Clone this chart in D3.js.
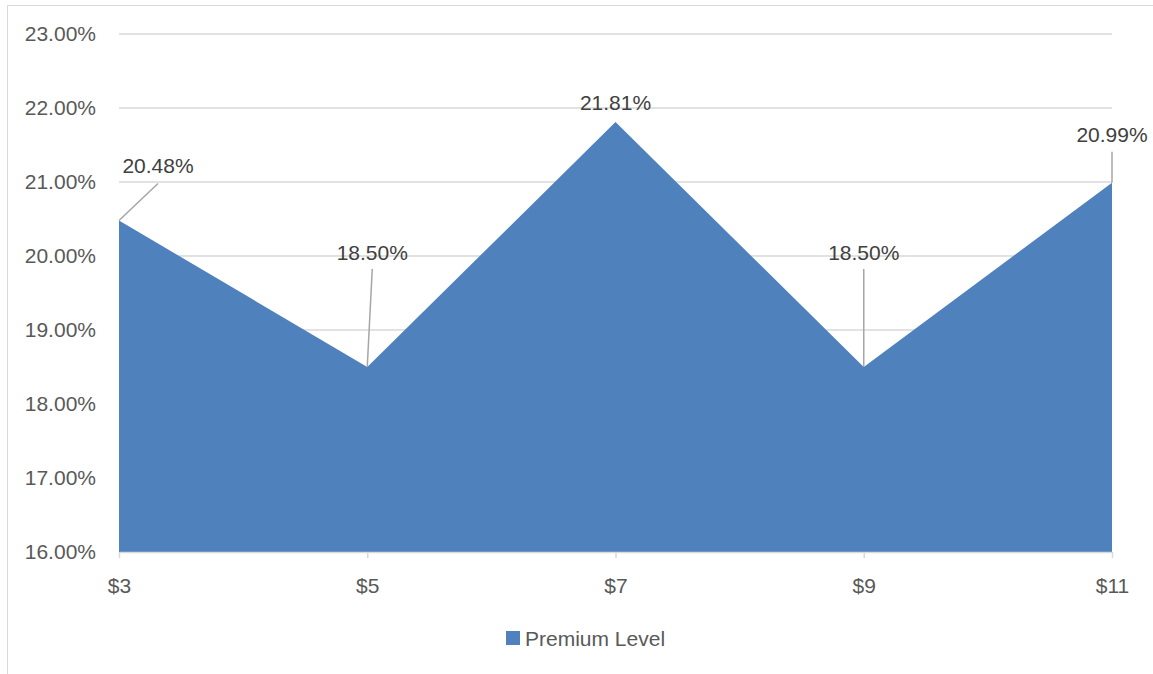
<!DOCTYPE html>
<html><head><meta charset="utf-8">
<script src="https://cdn.jsdelivr.net/npm/d3@7"></script>
<style>body{margin:0;background:#fff;} svg{display:block;font-family:"Liberation Sans",Arial,sans-serif;}</style>
</head><body>
<svg id="c" width="1153" height="674"></svg>
<script>
const categories = ["$3","$5","$7","$9","$11"];
const values = [20.48, 18.50, 21.81, 18.50, 20.99];
const yTicks = [16,17,18,19,20,21,22,23];
const seriesName = "Premium Level";
// label offsets relative to point (dx, dy) for leader-line placement
const labelOffsets = [[39,-55],[5,-115],[0,-20],[0,-115],[0,-48]];

const svg = d3.select("#c");
const FS = "21px";
// outer border (top and left only visible)
svg.append("line").attr("x1",7.5).attr("x2",1153).attr("y1",5.5).attr("y2",5.5).attr("stroke","#d9d9d9");
svg.append("line").attr("x1",7.5).attr("x2",7.5).attr("y1",5.5).attr("y2",674).attr("stroke","#d9d9d9");

const x = d3.scalePoint().domain(categories).range([119,1112]);
const y = d3.scaleLinear().domain([16,23]).range([552,34]);

// gridlines
svg.append("g").selectAll("line").data(yTicks.filter(t=>t>16)).join("line")
  .attr("x1",119).attr("x2",1112).attr("y1",d=>y(d)).attr("y2",d=>y(d))
  .attr("stroke","#d9d9d9").attr("stroke-width",1.5);

// y axis labels
const yAxis = d3.axisLeft(y).tickValues(yTicks).tickSize(0).tickPadding(23)
  .tickFormat(d=>d3.format(".2f")(d)+"%");
const ya = svg.append("g").attr("transform","translate(119,0)").call(yAxis);
ya.select(".domain").remove();
ya.selectAll("text").attr("fill","#595959").style("font-size",FS).style("font-family","Liberation Sans, Arial, sans-serif");

// area
const data = categories.map((c,i)=>({c, v: values[i]}));
const area = d3.area().x(d=>x(d.c)).y0(y(16)).y1(d=>y(d.v));
svg.append("path").datum(data).attr("d",area).attr("fill","#4f81bd");

// x axis
const xAxis = d3.axisBottom(x).tickSizeInner(6).tickSizeOuter(0).tickPadding(0);
const xa = svg.append("g").attr("transform",`translate(0,${y(16)})`).call(xAxis);
xa.select(".domain").attr("stroke","#d9d9d9").attr("stroke-width",1.5);
xa.selectAll(".tick line").attr("stroke","#d9d9d9").attr("stroke-width",1.5);
xa.selectAll("text").attr("y",33).attr("dy",null).attr("dominant-baseline","central")
  .attr("fill","#595959").style("font-size",FS).style("font-family","Liberation Sans, Arial, sans-serif");

// data labels with leader lines
const lbl = svg.append("g");
data.forEach((d,i)=>{
  const px = x(d.c), py = y(d.v);
  const [dx,dy] = labelOffsets[i];
  const lx = px+dx, ly = py+dy;
  if (i !== 2) {
    let ex = lx, ey = ly+17;
    if (i===0){ ex = px+39; ey = py-37; }
    lbl.append("line").attr("x1",px).attr("y1",py).attr("x2",ex).attr("y2",ey)
      .attr("stroke","#a6a6a6").attr("stroke-width",1.5);
  }
  lbl.append("text").attr("x",lx).attr("y",ly).attr("text-anchor","middle")
    .attr("dominant-baseline","central")
    .attr("fill","#404040").style("font-size",FS)
    .text(d3.format(".2f")(d.v)+"%");
});

// legend
const lg = svg.append("g");
lg.append("rect").attr("x",506).attr("y",631).attr("width",14).attr("height",14).attr("fill","#4f81bd");
lg.append("text").attr("x",525).attr("y",638).attr("dominant-baseline","central")
  .attr("fill","#595959").style("font-size",FS).text(seriesName);
</script>
</body></html>
